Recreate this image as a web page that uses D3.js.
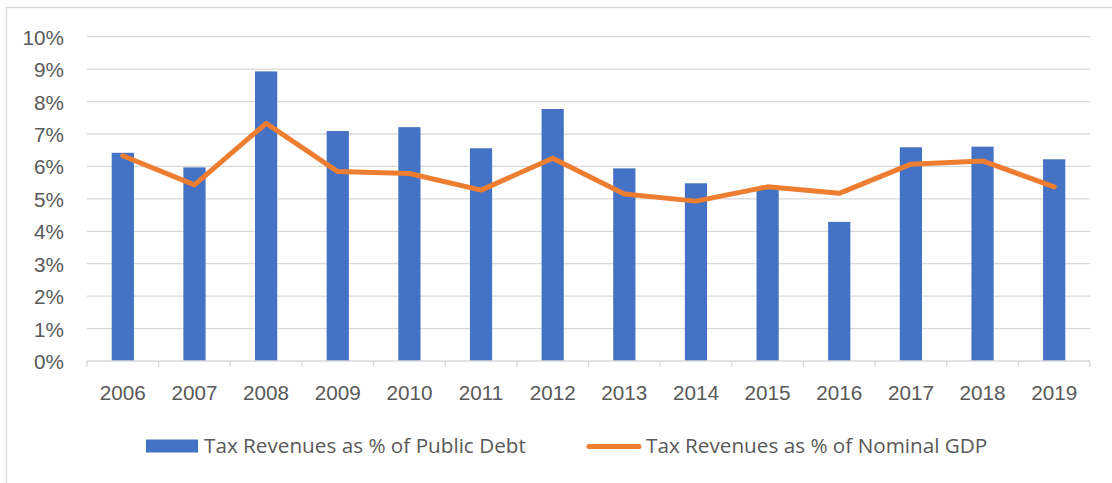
<!DOCTYPE html>
<html>
<head>
<meta charset="utf-8">
<script src="https://cdn.jsdelivr.net/npm/d3@7"></script>
<style>
  html, body { margin: 0; padding: 0; background: #fff; }
  svg { display: block; font-family: "Open Sans", "Noto Sans", sans-serif; }
</style>
</head>
<body>
<svg id="chart" width="1112" height="483"></svg>
<script>
// Tax revenue ratios by year (percent)
const years = ["2006","2007","2008","2009","2010","2011","2012","2013","2014","2015","2016","2017","2018","2019"];
const pctPublicDebt = [6.42, 5.97, 8.93, 7.09, 7.21, 6.56, 7.77, 5.94, 5.48, 5.32, 4.29, 6.59, 6.61, 6.22];
const pctNominalGDP = [6.33, 5.43, 7.33, 5.84, 5.78, 5.27, 6.25, 5.15, 4.93, 5.37, 5.17, 6.07, 6.17, 5.37];
const yTicks = [0, 1, 2, 3, 4, 5, 6, 7, 8, 9, 10];
const seriesNames = ["Tax Revenues as % of Public Debt", "Tax Revenues as % of Nominal GDP"];

const blue = "#4472C4", orange = "#ED7D31", grid = "#d9d9d9", ink = "#595959";
const fontSize = "20.7px";
const svg = d3.select("#chart");

// chart frame
svg.append("rect")
  .attr("x", 6.5).attr("y", 7.5)
  .attr("width", 1120).attr("height", 500)
  .attr("fill", "#fff").attr("stroke", grid).attr("stroke-width", 1.3);

const plot = { left: 87, right: 1090, top: 36.7, bottom: 361 };

const x = d3.scaleBand().domain(years).range([plot.left, plot.right]).paddingInner(0).paddingOuter(0);
const y = d3.scaleLinear().domain([0, 10]).range([plot.bottom, plot.top]);

// horizontal gridlines
svg.append("g")
  .selectAll("line")
  .data(yTicks.filter(d => d > 0))
  .join("line")
  .attr("x1", plot.left).attr("x2", plot.right)
  .attr("y1", d => y(d)).attr("y2", d => y(d))
  .attr("stroke", grid).attr("stroke-width", 1.3);

// y axis labels
const yAxis = d3.axisLeft(y).tickValues(yTicks).tickFormat(d => d + "%").tickSize(0).tickPadding(0);
const gy = svg.append("g").attr("transform", `translate(${plot.left - 23},0)`).call(yAxis);
gy.select(".domain").remove();
gy.selectAll("text").attr("fill", ink).style("font-size", fontSize).attr("dy", "0.36em");

// bars
const barW = x.bandwidth() * 0.31;
svg.append("g")
  .selectAll("rect")
  .data(years.map((yr, i) => ({ yr, v: pctPublicDebt[i] })))
  .join("rect")
  .attr("x", d => x(d.yr) + (x.bandwidth() - barW) / 2)
  .attr("width", barW)
  .attr("y", d => y(d.v))
  .attr("height", d => y(0) - y(d.v))
  .attr("fill", blue);

// x axis with category boundary ticks
const xAxis = d3.axisBottom(x).tickSize(0).tickPadding(0);
const gx = svg.append("g").attr("transform", `translate(0,${plot.bottom})`).call(xAxis);
gx.select(".domain").remove();
gx.selectAll("text").attr("fill", ink).style("font-size", fontSize).attr("dy", "1.88em");
svg.append("line")
  .attr("x1", plot.left).attr("x2", plot.right)
  .attr("y1", plot.bottom).attr("y2", plot.bottom)
  .attr("stroke", grid).attr("stroke-width", 1.3);
svg.append("g")
  .selectAll("line")
  .data(years.map(d => x(d)).concat([plot.right]))
  .join("line")
  .attr("x1", d => d).attr("x2", d => d)
  .attr("y1", plot.bottom).attr("y2", plot.bottom + 6)
  .attr("stroke", grid).attr("stroke-width", 1.3);

// GDP ratio line
const line = d3.line()
  .x((d, i) => x(years[i]) + x.bandwidth() / 2)
  .y(d => y(d));
svg.append("path")
  .datum(pctNominalGDP)
  .attr("d", line)
  .attr("fill", "none")
  .attr("stroke", orange)
  .attr("stroke-width", 5)
  .attr("stroke-linejoin", "round")
  .attr("stroke-linecap", "round");

// legend
const lg = svg.append("g");
lg.append("rect").attr("x", 146).attr("y", 439.5).attr("width", 52).attr("height", 13).attr("fill", blue);
lg.append("text").attr("x", 204).attr("y", 453).attr("fill", ink).style("font-size", fontSize).text(seriesNames[0]);
lg.append("line").attr("x1", 589).attr("x2", 639).attr("y1", 446.5).attr("y2", 446.5)
  .attr("stroke", orange).attr("stroke-width", 5).attr("stroke-linecap", "round");
lg.append("text").attr("x", 646).attr("y", 453).attr("fill", ink).style("font-size", fontSize).text(seriesNames[1]);
</script>
</body>
</html>
